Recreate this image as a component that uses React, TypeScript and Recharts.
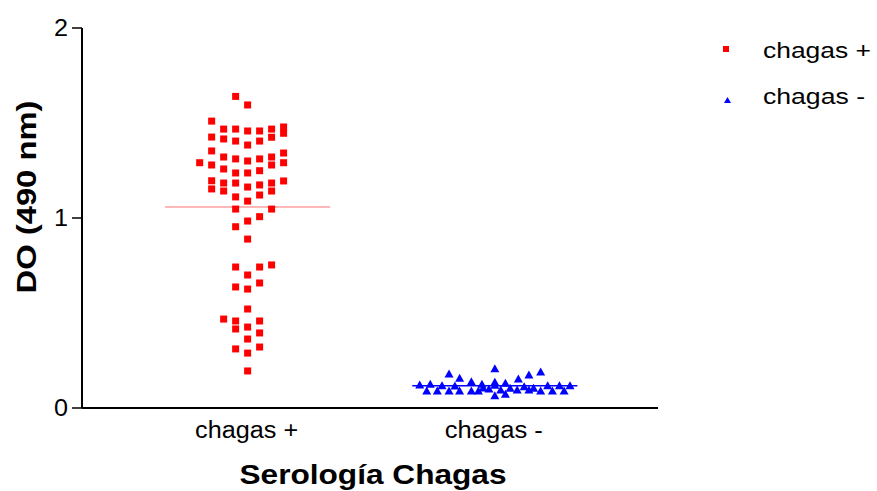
import React from 'react';
import { ScatterChart, Scatter, XAxis, YAxis, ReferenceLine, Legend } from 'recharts';

const categories = ['chagas +', 'chagas -'];
const categoryPositions = [1, 2];
const yTicks = [0, 1, 2];
const seriesNames = ['chagas +', 'chagas -'];

// [column offset, value]
const positivePoints: [number, number][] = [
  [-1, 1.64], [0, 1.595], [-3, 1.51], [-2, 1.468], [-1, 1.468], [0, 1.458], [1, 1.458], [2, 1.468],
  [3, 1.479], [3, 1.446], [2, 1.425], [-3, 1.426], [-2, 1.416], [-1, 1.405], [1, 1.405], [0, 1.384],
  [-3, 1.353], [3, 1.342], [-4, 1.291], [-3, 1.279], [-2, 1.321], [-1, 1.311], [0, 1.3], [1, 1.311],
  [2, 1.321], [3, 1.291], [2, 1.279], [-2, 1.258], [1, 1.249], [-1, 1.237], [0, 1.237], [-3, 1.196],
  [-3, 1.153], [-2, 1.184], [-2, 1.142], [-1, 1.184], [0, 1.163], [1, 1.174], [2, 1.184], [2, 1.142],
  [3, 1.195], [1, 1.121], [-1, 1.111], [0, 1.089], [-1, 1.047], [2, 1.047], [1, 1.007], [0, 0.984],
  [-1, 0.954], [0, 0.889], [-1, 0.742], [1, 0.742], [2, 0.753], [0, 0.7], [1, 0.658], [-1, 0.637],
  [0, 0.626], [0, 0.521], [-2, 0.468], [-1, 0.458], [1, 0.458], [-1, 0.416], [0, 0.426], [1, 0.395],
  [0, 0.363], [-1, 0.311], [1, 0.321], [0, 0.289], [0, 0.195],
];

const negativePoints: [number, number][] = [
  [0, 0.207], [-3.9, 0.179], [-3, 0.156], [2, 0.153], [2.9, 0.174], [3.9, 0.19],
  [-6.4, 0.121], [-5.5, 0.125], [-4.5, 0.117], [-3.4, 0.116], [-2, 0.138], [-1.1, 0.125], [0, 0.135],
  [0.9, 0.13], [1.3, 0.104], [2.5, 0.112], [3.3, 0.104], [4.5, 0.117], [5.5, 0.117], [6.4, 0.117],
  [-5.8, 0.09], [-4.9, 0.09], [-3.9, 0.09], [-3, 0.09], [-2, 0.09], [-1.4, 0.09], [-0.5, 0.1], [0, 0.12],
  [0, 0.065], [0.9, 0.072], [1.9, 0.095], [2.9, 0.095], [3.9, 0.09], [4.9, 0.09], [5.9, 0.09],
  [-1, 0.105], [0.5, 0.095],
];

const medians = [1.058, 0.117];

const positiveStep = 0.0485;
const negativeStep = 0.0475;
const medianHalfWidth = 0.334;

const positiveData = positivePoints.map(([c, v]) => ({ x: categoryPositions[0] + c * positiveStep, y: v }));
const negativeData = negativePoints.map(([c, v]) => ({ x: categoryPositions[1] + c * negativeStep, y: v }));

const FONT = '"Liberation Sans", Arial, sans-serif';
const xTickLengths = [103, 98];
const legendLengths = [108, 102];

const Square = (props: any) => {
  const { cx, cy } = props;
  if (cx == null || cy == null) return null;
  return <rect x={cx - 3.5} y={cy - 3.5} width={7} height={7} fill="#ff0000" />;
};

const Triangle = (props: any) => {
  const { cx, cy } = props;
  if (cx == null || cy == null) return null;
  return <polygon points={`${cx},${cy - 4.5} ${cx + 4.5},${cy + 3.5} ${cx - 4.5},${cy + 3.5}`} fill="#0000ff" />;
};

const XTick = (props: any) => {
  const { x, y, payload } = props;
  const idx = categoryPositions.indexOf(payload.value);
  return (
    <text
      x={x - 1}
      y={y + 30}
      textAnchor="middle"
      fontFamily={FONT}
      fontSize={23}
      textLength={xTickLengths[idx]}
      lengthAdjust="spacingAndGlyphs"
      fill="#000"
    >
      {categories[idx]}
    </text>
  );
};

const YTick = (props: any) => {
  const { x, y, payload } = props;
  return (
    <text
      x={x}
      y={y + 8}
      textAnchor="end"
      fontFamily={FONT}
      fontSize={23}
      textLength={14}
      lengthAdjust="spacingAndGlyphs"
      fill="#000"
    >
      {payload.value}
    </text>
  );
};

const YLabel = () => (
  <text
    x={36}
    y={197}
    transform="rotate(-90 36 197)"
    textAnchor="middle"
    fontFamily={FONT}
    fontWeight="bold"
    fontSize={27}
    textLength={193}
    lengthAdjust="spacingAndGlyphs"
    fill="#000"
  >
    DO (490 nm)
  </text>
);

const XLabel = () => (
  <text
    x={373}
    y={484}
    textAnchor="middle"
    fontFamily={FONT}
    fontWeight="bold"
    fontSize={28}
    textLength={267}
    lengthAdjust="spacingAndGlyphs"
    fill="#000"
  >
    Serología Chagas
  </text>
);

const LegendContent = () => (
  <svg width={162} height={90} style={{ display: 'block' }}>
    <rect x={8} y={16} width={6} height={6} fill="#ff0000" />
    <text x={48} y={28} fontFamily={FONT} fontSize={22} textLength={legendLengths[0]} lengthAdjust="spacingAndGlyphs" fill="#000">
      {seriesNames[0]}
    </text>
    <polygon points="12.5,67 16,73 9,73" fill="#0000ff" />
    <text x={48} y={74} fontFamily={FONT} fontSize={22} textLength={legendLengths[1]} lengthAdjust="spacingAndGlyphs" fill="#000">
      {seriesNames[1]}
    </text>
  </svg>
);

export default function App() {
  return (
    <div style={{ position: 'absolute', left: 0, top: 0, width: 877, height: 491, background: '#fff' }}>
      <ScatterChart width={877} height={491} margin={{ top: 28, right: 219, bottom: 0, left: 0 }}>
        <XAxis
          type="number"
          dataKey="x"
          domain={[0.33, 2.66]}
          ticks={categoryPositions}
          allowDataOverflow
          interval={0}
          height={83}
          tickLine={false}
          tickSize={0}
          tickMargin={0}
          axisLine={{ stroke: '#000', strokeWidth: 2 }}
          tick={<XTick />}
          label={{ content: () => <XLabel /> }}
        />
        <YAxis
          type="number"
          dataKey="y"
          domain={[0, 2]}
          ticks={yTicks}
          interval={0}
          width={82}
          tickSize={10}
          tickMargin={4}
          tickLine={{ stroke: '#000', strokeWidth: 1.5 }}
          axisLine={{ stroke: '#000', strokeWidth: 2 }}
          tick={<YTick />}
          label={{ content: () => <YLabel /> }}
        />
        <Legend
          layout="horizontal"
          verticalAlign="middle"
          align="center"
          wrapperStyle={{ left: 715, top: 30, width: 162, height: 90 }}
          content={() => <LegendContent />}
        />
        <ReferenceLine
          segment={[
            { x: categoryPositions[0] - medianHalfWidth, y: medians[0] },
            { x: categoryPositions[0] + medianHalfWidth, y: medians[0] },
          ]}
          stroke="#ff7070"
          strokeWidth={1.2}
        />
        <Scatter name={seriesNames[0]} data={positiveData} fill="#ff0000" shape={<Square />} isAnimationActive={false} />
        <Scatter name={seriesNames[1]} data={negativeData} fill="#0000ff" shape={<Triangle />} isAnimationActive={false} />
        <ReferenceLine
          segment={[
            { x: categoryPositions[1] - medianHalfWidth, y: medians[1] },
            { x: categoryPositions[1] + medianHalfWidth, y: medians[1] },
          ]}
          stroke="#0000ff"
          strokeWidth={1.5}
        />
      </ScatterChart>
    </div>
  );
}
